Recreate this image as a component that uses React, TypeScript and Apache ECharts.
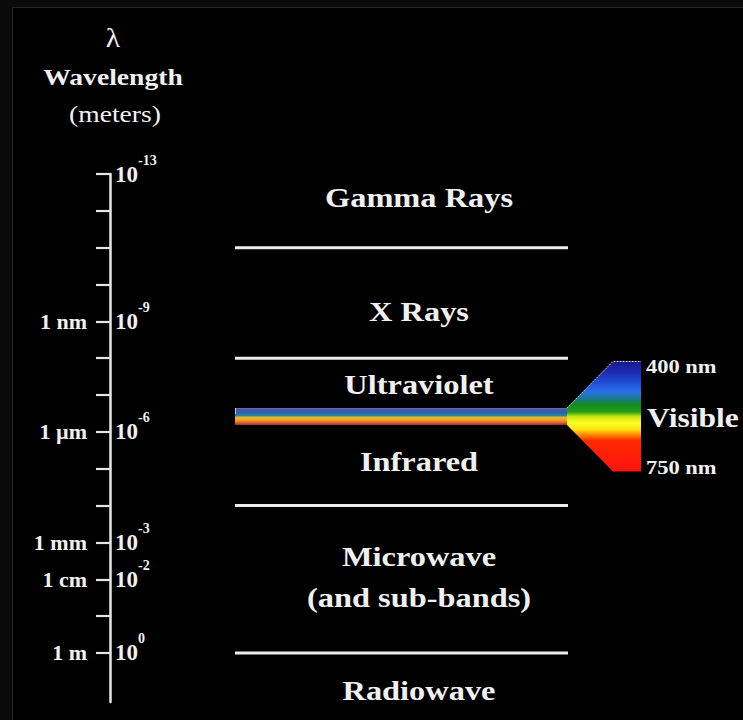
import React, { useEffect, useRef } from "react";
import * as echarts from "echarts";

// ---- Data ----
const tickExponents = [-13, -12, -11, -10, -9, -8, -7, -6, -5, -4, -3, -2, -1, 0];
const unitTickValues = [-9, -6, -3, -2, 0];
const unitTickNames = ["1 nm", "1 µm", "1 mm", "1 cm", "1 m"];
const powerTickValues = [-13, -9, -6, -3, -2, 0];
const axisMin = -13;
const axisMax = 1.33;
const bandNames = ["Gamma Rays", "X Rays", "Ultraviolet", "Infrared", "Microwave\n(and sub-bands)", "Radiowave"];
const bandLabelExponents = [-12.35, -9.28, -7.3, -5.19, -2.05, 1.03];
const boundaryExponents = [-11, -8, -4, 0];
const visibleRange = [-6.65, -6.19];
const visibleLabels = ["400 nm", "Visible", "750 nm"];
const titleLines = ["λ", "Wavelength", "(meters)"];

const SERIF = '"Liberation Serif", "Times New Roman", serif';
const WHITE = "#f0f0f0";

export default function App() {
  const ref = useRef<HTMLDivElement>(null);
  useEffect(() => {
    if (!ref.current) return;
    const chart = echarts.init(ref.current, null, { renderer: "svg" });

    const bandLeft = 235;
    const bandRight = 568;
    const labelCenterX = 419;

    const option: any = {
      animation: false,
      backgroundColor: "#000000",
      grid: [
        { left: 110, top: 174, width: 600, height: 528 },
        { left: 110, top: 174, width: 600, height: 528 },
      ],
      xAxis: [
        { type: "value", gridIndex: 0, min: 0, max: 100, show: false },
        { type: "value", gridIndex: 1, min: 0, max: 100, show: false },
      ],
      yAxis: [
        {
          type: "value",
          gridIndex: 0,
          inverse: true,
          min: axisMin,
          max: axisMax,
          position: "left",
          splitLine: { show: false },
          axisLine: { show: true, lineStyle: { color: "#e6e6e6", width: 2.5 } },
          axisTick: {
            show: true,
            customValues: tickExponents,
            length: 14,
            lineStyle: { color: "#e6e6e6", width: 2.2 },
          },
          axisLabel: {
            show: true,
            customValues: unitTickValues,
            interval: 0,
            margin: 23,
            color: WHITE,
            fontFamily: SERIF,
            fontWeight: "bold",
            fontSize: 22,
            formatter: (v: number) => {
              const i = unitTickValues.indexOf(Math.round(v));
              return i >= 0 ? unitTickNames[i] : "";
            },
          },
        },
        {
          type: "value",
          gridIndex: 1,
          inverse: true,
          min: axisMin,
          max: axisMax,
          position: "left",
          splitLine: { show: false },
          axisLine: { show: false },
          axisTick: { show: false },
          axisLabel: {
            show: true,
            inside: true,
            customValues: powerTickValues,
            interval: 0,
            margin: 5,
            formatter: (v: number) => `{b|10}{s|${Math.round(v)}}`,
            rich: {
              b: { color: WHITE, fontFamily: SERIF, fontWeight: "bold", fontSize: 23 },
              s: { color: WHITE, fontFamily: SERIF, fontWeight: "bold", fontSize: 14, padding: [0, 0, 28, 0] },
            },
          },
        },
      ],
      graphic: [
        { type: "rect", z: -10, shape: { x: 0, y: 0, width: 743, height: 7 }, style: { fill: "#0a0a0a" } },
        { type: "rect", z: -10, shape: { x: 0, y: 0, width: 12, height: 720 }, style: { fill: "#0a0a0a" } },
        { type: "line", z: -9, shape: { x1: 12.5, y1: 7.5, x2: 743, y2: 7.5 }, style: { stroke: "#262626", lineWidth: 1 } },
        { type: "line", z: -9, shape: { x1: 12.5, y1: 7.5, x2: 12.5, y2: 720 }, style: { stroke: "#262626", lineWidth: 1 } },
        {
          type: "text", x: 113, y: 38, scaleX: 1.1,
          style: { text: titleLines[0], fill: WHITE, font: `normal 27px ${SERIF}`, align: "center", verticalAlign: "middle", textAlign: "center", textVerticalAlign: "middle" },
        },
        {
          type: "text", x: 113, y: 77, scaleX: 1.2,
          style: { text: titleLines[1], fill: WHITE, font: `bold 23px ${SERIF}`, align: "center", verticalAlign: "middle", textAlign: "center", textVerticalAlign: "middle" },
        },
        {
          type: "text", x: 115, y: 114, scaleX: 1.2,
          style: { text: titleLines[2], fill: WHITE, font: `normal 23px ${SERIF}`, align: "center", verticalAlign: "middle", textAlign: "center", textVerticalAlign: "middle" },
        },
      ],
      series: [
        {
          type: "custom",
          name: "boundaries",
          xAxisIndex: 0,
          yAxisIndex: 0,
          clip: false,
          data: boundaryExponents.map((e) => [0, e]),
          renderItem: (params: any, api: any) => {
            const y = api.coord([0, api.value(1)])[1];
            return {
              type: "line",
              shape: { x1: bandLeft, y1: y, x2: bandRight, y2: y },
              style: { stroke: "#ececec", lineWidth: 3 },
            };
          },
        },
        {
          type: "custom",
          name: "bands",
          xAxisIndex: 0,
          yAxisIndex: 0,
          clip: false,
          data: bandLabelExponents.map((e, i) => [0, e, i]),
          renderItem: (params: any, api: any) => {
            const y = api.coord([0, api.value(1)])[1];
            const name = bandNames[params.dataIndex];
            return {
              type: "text",
              x: labelCenterX,
              y,
              scaleX: 1.2,
              style: {
                text: name,
                fill: WHITE,
                font: `bold 27px ${SERIF}`,
                lineHeight: 41,
                align: "center",
                verticalAlign: "middle",
              },
            };
          },
        },
        {
          type: "custom",
          name: "visible",
          xAxisIndex: 0,
          yAxisIndex: 0,
          clip: false,
          data: [[0, visibleRange[0], visibleRange[1]]],
          renderItem: (params: any, api: any) => {
            const y0 = api.coord([0, api.value(1)])[1];
            const y1 = api.coord([0, api.value(2)])[1];
            const cy = (y0 + y1) / 2;
            const apexX = 567;
            const fanX0 = 613;
            const fanX1 = 641;
            const half = 55;
            const stripGrad = new echarts.graphic.LinearGradient(0, 0, 0, 1, [
              { offset: 0, color: "#8a62b8" },
              { offset: 0.1, color: "#3c5cb4" },
              { offset: 0.3, color: "#2c62ac" },
              { offset: 0.45, color: "#228c92" },
              { offset: 0.55, color: "#eab832" },
              { offset: 0.72, color: "#f0a024" },
              { offset: 0.87, color: "#e06424" },
              { offset: 1, color: "#902a58" },
            ]);
            const fanGrad = new echarts.graphic.LinearGradient(0, 0, 0, 1, [
              { offset: 0, color: "#1a1a8c" },
              { offset: 0.09, color: "#1e28b0" },
              { offset: 0.2, color: "#2050d8" },
              { offset: 0.28, color: "#2a72ea" },
              { offset: 0.34, color: "#1a7a8a" },
              { offset: 0.39, color: "#108a22" },
              { offset: 0.46, color: "#2aa012" },
              { offset: 0.5, color: "#c8e412" },
              { offset: 0.56, color: "#ffff22" },
              { offset: 0.62, color: "#ffe012" },
              { offset: 0.67, color: "#ff8200" },
              { offset: 0.72, color: "#ff2a00" },
              { offset: 1, color: "#ff1212" },
            ]);
            const textStyle = (t: string, size: number) => ({
              text: t,
              fill: WHITE,
              font: `bold ${size}px ${SERIF}`,
              align: "left",
              verticalAlign: "middle",
            });
            return {
              type: "group",
              children: [
                {
                  type: "rect",
                  shape: { x: bandLeft, y: y0, width: apexX - bandLeft, height: y1 - y0 },
                  style: { fill: stripGrad },
                },
                {
                  type: "line",
                  shape: { x1: bandLeft + 0.5, y1: y0, x2: bandLeft + 0.5, y2: y0 + 6 },
                  style: { stroke: "#c8c8e8", lineWidth: 1 },
                },
                {
                  type: "polygon",
                  shape: {
                    points: [
                      [apexX, y0],
                      [fanX0, cy - half],
                      [fanX1, cy - half],
                      [fanX1, cy + half],
                      [fanX0, cy + half],
                      [apexX, y1],
                    ],
                  },
                  style: { fill: fanGrad },
                },
                {
                  type: "polyline",
                  shape: { points: [[apexX, y0], [fanX0, cy - half], [fanX1, cy - half]] },
                  style: { stroke: "#d8d8f0", lineWidth: 1, fill: null, lineDash: [2, 1] },
                },
                {
                  type: "text",
                  x: 646,
                  y: cy - 50,
                  scaleX: 1.25,
                  style: textStyle(visibleLabels[0], 18),
                },
                {
                  type: "text",
                  x: 647,
                  y: cy + 1,
                  scaleX: 1.17,
                  style: textStyle(visibleLabels[1], 27),
                },
                {
                  type: "text",
                  x: 646,
                  y: cy + 51,
                  scaleX: 1.25,
                  style: textStyle(visibleLabels[2], 18),
                },
              ],
            };
          },
        },
      ],
    };
    chart.setOption(option);
    return () => chart.dispose();
  }, []);
  return (
    <div
      ref={ref}
      style={{ position: "absolute", left: 0, top: 0, width: 743, height: 720, background: "#000" }}
    />
  );
}
